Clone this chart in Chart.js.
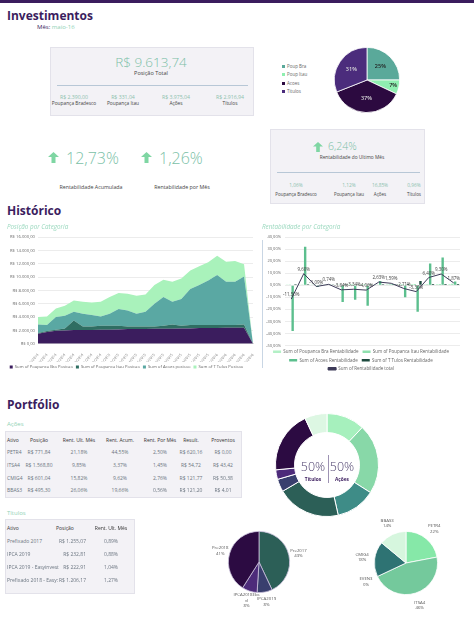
<!DOCTYPE html>
<html>
<head>
<meta charset="utf-8">
<title>Investimentos</title>
<script src="https://cdn.jsdelivr.net/npm/chart.js@4.4.1/dist/chart.umd.min.js"></script>
<style>
  body { margin: 0; width: 474px; height: 636px; position: relative; overflow: hidden; background: #fff; font-family: "Open Sans", sans-serif; }
  .t { position: absolute; white-space: nowrap; }
  .box { position: absolute; background: #f3f2f6; border: 1px solid #e3e2ea; box-sizing: border-box; }
  .hr { position: absolute; height: 1px; background: #b7c7d6; }
  .cv { position: absolute; }
</style>
</head>
<body>
<div style="position:absolute;left:0;top:0;width:474px;height:3px;background:#3b1d5e"></div>
<div class="box" style="left:50px;top:47px;width:204px;height:69px"></div>
<div class="hr" style="left:57px;top:85px;width:191px"></div>
<div class="box" style="left:270px;top:129px;width:155px;height:75px"></div>
<div class="hr" style="left:277px;top:172px;width:143px"></div>
<div class="box" style="left:5px;top:431px;width:237px;height:67px"></div>
<div class="box" style="left:5px;top:519px;width:130px;height:75px"></div>
<div style="position:absolute;left:262px;top:240px;width:1px;height:128px;background:#c9d6e4"></div>
<div style="position:absolute;left:328px;top:455px;width:1px;height:28px;background:#9d92b3"></div>

<svg style="position:absolute;left:48px;top:152px" width="11" height="11" viewBox="0 0 11 11"><path d="M5.5 0 L11 5 L7.5 5 L7.5 11 L3.5 11 L3.5 5 L0 5 Z" fill="#7fd6a3"/></svg>
<svg style="position:absolute;left:141px;top:152px" width="11" height="11" viewBox="0 0 11 11"><path d="M5.5 0 L11 5 L7.5 5 L7.5 11 L3.5 11 L3.5 5 L0 5 Z" fill="#7fd6a3"/></svg>
<svg style="position:absolute;left:313px;top:142px" width="10" height="10" viewBox="0 0 11 11"><path d="M5.5 0 L11 5 L7.5 5 L7.5 11 L3.5 11 L3.5 5 L0 5 Z" fill="#7fd6a3"/></svg>

<canvas id="pieTotal" class="cv" width="66" height="66" style="left:334px;top:47px"></canvas>
<canvas id="areaPos" class="cv" width="258" height="149" style="left:0px;top:230px"></canvas>
<canvas id="rentCat" class="cv" width="205" height="151" style="left:262px;top:230px"></canvas>
<canvas id="portDonut" class="cv" width="104" height="104" style="left:275px;top:413px"></canvas>
<canvas id="pieTitulos" class="cv" width="120" height="122" style="left:199px;top:501px"></canvas>
<canvas id="pieAcoes" class="cv" width="112" height="116" style="left:350px;top:505px"></canvas>

<script>
// ---- dados ----
var resumoCats = ['Poup Bra', 'Poup Itau', 'Acoes', 'Titulos'];
var resumoPct = [25, 7, 37, 31];
var resumoCores = ['#5aa99a', '#8fefb0', '#2c0a40', '#4b2c7c'];

var meses = ['31/05/2014', '30/06/2014', '31/07/2014', '31/08/2014', '30/09/2014', '31/10/2014',
  '30/11/2014', '31/12/2014', '31/01/2015', '28/02/2015', '31/03/2015', '30/04/2015', '31/05/2015',
  '30/06/2015', '31/07/2015', '31/08/2015', '30/09/2015', '31/10/2015', '30/11/2015', '31/12/2015',
  '31/01/2016', '29/02/2016', '31/03/2016', '30/04/2016', '31/05/2016'];
var posBra = [1500, 1750, 1950, 2000, 2050, 2050, 2050, 2100, 2100, 2150, 2200, 2200, 2200, 2250, 2250, 2250, 2300, 2300, 2350, 2350, 2350, 2400, 2400, 2400, 0];
var posItau = [100, 150, 150, 300, 1450, 550, 550, 600, 600, 550, 400, 400, 400, 350, 450, 650, 400, 500, 450, 450, 450, 400, 400, 500, 0];
var posAcoes = [1300, 900, 1900, 1900, 1300, 1900, 1700, 1400, 1800, 2500, 2400, 1900, 2200, 3400, 4300, 3400, 4000, 5400, 6000, 6700, 7500, 6500, 6500, 7200, 0];
var posTitulos = [1100, 1300, 1300, 1500, 1700, 1800, 1900, 2200, 2500, 2400, 2500, 2700, 2600, 2800, 2600, 3000, 3100, 2800, 2800, 2700, 2900, 3000, 3100, 1800, 0];

var rentMeses = ['abr-15', 'mai-15', 'jun-15', 'jul-15', 'ago-15', 'set-15', 'out-15', 'nov-15', 'dez-15', 'jan-16', 'fev-16', 'mar-16', 'abr-16', 'mai-16'];
var rentBra = [0.6, 0.6, 0.6, 0.7, 0.7, 0.8, 0.8, 0.7, 0.8, 0.9, 1.0, 0.9, 1.0, 1.06];
var rentItau = [0.6, 0.6, 0.6, 0.7, 0.7, 0.8, 0.8, 0.7, 0.8, 0.9, 1.0, 0.9, 1.1, 1.12];
var rentAcoes = [-38, 32, -1.5, 0.5, -14, -12, -17, 3.5, 1, -10, -22, 18, 23, 3];
var rentTitulos = [0.8, 0.9, 0.5, 0.7, 0.9, 0.7, 0.8, 0.9, 0.8, 1.0, 3.5, 1.1, 1.0, 0.96];
var rentTotal = [-11.5, 9.6, -1.09, 0.74, -3.84, -3.34, -4.06, 2.63, 1.59, -2.71, -5.3, 6.4, 9.3, 1.87];

var portCats = ['PETR4', 'ITSA4', 'CMIG4', 'Pre2017', 'IPCA2019', 'IPCA2019 Easy', 'Pre2018', 'BBAS3'];
var portVals = [12, 22, 12.5, 20, 4, 3, 19.5, 7];
var portCores = ['#a6f0bd', '#88d8a8', '#3e8c87', '#2c5f57', '#393f6e', '#4d2b7a', '#2c0b42', '#ddf7e3'];

var titCats = ['Pre2017', 'IPCA2019', ['IPCA2018Ebs', 'vl'], 'Pre2018'];
var titPct = [43, 8, 8, 41];
var titCores = ['#2c5f57', '#393f6e', '#4d2b7a', '#2c0b42'];

var acCats = ['PETR4', 'ITSA4', 'EVEN3', 'CMIG4', 'BBAS3'];
var acPct = [22, 46, 0, 18, 14];
var acCores = ['#86e8a8', '#74c99c', '#5aa99a', '#2e7373', '#d6f6de'];

var tabAcoes = [
  ['Ativo', 'Posição', 'Rent. Ult. Mês', 'Rent. Acum.', 'Rent. Por Mês', 'Result.', 'Proventos'],
  ['PETR4', 'R$ 771,84', '21,18%', '44,55%', '2,50%', 'R$ 620,16', 'R$ 0,00'],
  ['ITSA4', 'R$ 1.568,80', '9,85%', '3,37%', '1,45%', 'R$ 54,72', 'R$ 43,42'],
  ['CMIG4', 'R$ 601,04', '15,82%', '9,62%', '2,76%', 'R$ 121,77', 'R$ 50,38'],
  ['BBAS3', 'R$ 495,30', '26,06%', '19,66%', '0,56%', 'R$ 121,20', 'R$ 4,01']
];
var tabTitulos = [
  ['Ativo', 'Posição', 'Rent. Ult. Mês'],
  ['Prefixado 2017', 'R$ 1.255,07', '0,89%'],
  ['IPCA 2019', 'R$ 232,81', '0,88%'],
  ['IPCA 2019 - Easyinvest', 'R$ 222,91', '1,04%'],
  ['Prefixado 2018 - Easy:', 'R$ 1.206,17', '1,27%']
];

// ---- textos ----
var roxo = '#3b1d5e', verde = '#7cbfa7', cinza = '#444';
function t(x, y, s, size, color, o) {
  o = o || {};
  var d = document.createElement('div');
  d.className = 't';
  d.innerHTML = s;
  d.style.left = x + 'px';
  d.style.top = (y - size) + 'px';
  d.style.lineHeight = (size * 2) + 'px';
  d.style.fontSize = size + 'px';
  d.style.color = color;
  if (o.w) d.style.fontWeight = o.w;
  if (o.i) d.style.fontStyle = 'italic';
  if (o.a == 'c') d.style.transform = 'translateX(-50%)';
  if (o.a == 'r') d.style.transform = 'translateX(-100%)';
  document.body.appendChild(d);
}

t(7, 16, 'Investimentos', 12, roxo, {w: 700});
t(37, 27, 'Mês: <span style="color:#8fd2b5">maio-16</span>', 6, roxo);

t(151, 62, 'R$ 9.613,74', 13.5, verde, {a: 'c', w: 300});
t(151, 73, 'Posição Total', 5.5, cinza, {a: 'c'});
[[74, 'R$ 2.390,00', 'Poupança Bradesco'], [123, 'R$ 331,04', 'Poupança Itau'],
 [176, 'R$ 3.975,04', 'Ações'], [230, 'R$ 2.916,94', 'Títulos']].forEach(function(c) {
  t(c[0], 97, c[1], 5.2, '#8cc1ad', {a: 'c'});
  t(c[0], 104, c[2], 4.8, cinza, {a: 'c'});
});

resumoCats.forEach(function(c, i) {
  var y = 66 + i * 8.6;
  var sq = document.createElement('div');
  sq.style.cssText = 'position:absolute;left:282px;top:' + (y - 1.5) + 'px;width:3px;height:3px;background:' + resumoCores[i];
  document.body.appendChild(sq);
  t(287, y, c, 4.5, '#666');
});

t(66, 158, '12,73%', 16, verde, {w: 300});
t(159, 158, '1,26%', 16, verde, {w: 300});
t(91, 187, 'Rentabilidade Acumulada', 5.3, cinza, {a: 'c'});
t(182, 187, 'Rentabilidade por Mês', 5.3, cinza, {a: 'c'});

t(328, 146, '6,24%', 10.5, verde, {w: 300});
t(352, 158, 'Rentabilidade do Ultimo Mês', 4.8, cinza, {a: 'c'});
[[296, '1,06%', 'Poupança Bradesco'], [349, '1,12%', 'Poupança Itau'],
 [380, '16,85%', 'Ações'], [414, '0,96%', 'Títulos']].forEach(function(c) {
  t(c[0], 186, c[1], 4.8, '#8cc1ad', {a: 'c'});
  t(c[0], 194, c[2], 4.5, cinza, {a: 'c'});
});

t(7, 211, 'Histórico', 12, roxo, {w: 700});
t(7, 227, 'Posição por Categoria', 6.3, '#9ad8be', {i: true});
t(262, 227, 'Rentabilidade por Categoria', 6.3, '#9ad8be', {i: true});

t(7, 405, 'Portfólio', 12, roxo, {w: 700});
t(7, 424, 'Ações', 6, '#8fd2b5');
t(7, 513, 'Títulos', 6, '#8fd2b5');

var colA = [[7, 'l'], [39, 'c'], [79, 'c'], [120, 'c'], [160, 'c'], [191, 'c'], [223, 'c']];
var rowA = [440, 452, 465, 478, 490];
tabAcoes.forEach(function(r, j) {
  r.forEach(function(s, k) {
    t(colA[k][0], rowA[j], s, 5, j == 0 ? '#333' : '#6b7580', {a: colA[k][1]});
  });
});
var colT = [[7, 'l'], [86, 'r'], [111, 'c']];
var rowT = [528, 541, 554, 567, 580];
tabTitulos.forEach(function(r, j) {
  r.forEach(function(s, k) {
    if (j == 0 && k == 1) { t(56, rowT[j], s, 5, '#333'); return; }
    t(colT[k][0], rowT[j], s, 5, j == 0 ? '#333' : '#6b7580', {a: colT[k][1]});
  });
});

t(313, 466, '50%', 12.5, '#4a3d6b', {a: 'c', w: 300});
t(342, 466, '50%', 12.5, '#4a3d6b', {a: 'c', w: 300});
t(313, 480, 'Títulos', 4.8, roxo, {a: 'c', w: 700});
t(342, 480, 'Ações', 4.8, roxo, {a: 'c', w: 700});

// ---- graficos ----
Chart.defaults.font.family = '"Open Sans", sans-serif';
Chart.defaults.animation = false;
Chart.defaults.plugins.tooltip.enabled = false;

var pieLabels = {
  id: 'pieLabels',
  afterDatasetsDraw: function(chart, args, opts) {
    var ctx = chart.ctx;
    var meta = chart.getDatasetMeta(0);
    var ds = chart.data.datasets[0];
    ctx.save();
    ctx.textAlign = 'center';
    ctx.textBaseline = 'middle';
    meta.data.forEach(function(arc, i) {
      var mid = (arc.startAngle + arc.endAngle) / 2;
      var f = opts.factor;
      if (opts.inside && arc.endAngle - arc.startAngle < 0.6) f = 0.82;
      var x = arc.x + Math.cos(mid) * arc.outerRadius * f;
      var y = arc.y + Math.sin(mid) * arc.outerRadius * f;
      var pct = ds.data[i] + '%';
      if (opts.inside) {
        ctx.font = '600 ' + opts.size + 'px "Open Sans"';
        ctx.fillStyle = opts.colors[i];
        ctx.fillText(pct, x, y);
      } else {
        ctx.font = opts.size + 'px "Open Sans"';
        ctx.fillStyle = '#555';
        var lines = [].concat(chart.data.labels[i]).concat([pct]);
        var h = opts.size * 1.25;
        lines.forEach(function(l, k) {
          ctx.fillText(l, x, y + (k - (lines.length - 1) / 2) * h);
        });
      }
    });
    ctx.restore();
  }
};

new Chart(document.getElementById('pieTotal'), {
  type: 'pie',
  data: {
    labels: resumoCats,
    datasets: [{ data: resumoPct, backgroundColor: resumoCores, borderColor: '#fff', borderWidth: 0.8 }]
  },
  options: {
    responsive: false,
    plugins: {
      legend: { display: false },
      pieLabels: { inside: true, factor: 0.58, size: 5.5, colors: ['#222', '#222', '#ddd', '#ddd'] }
    }
  },
  plugins: [pieLabels]
});

function reais(v) {
  var s = String(Math.round(v)).replace(/\B(?=(\d{3})+(?!\d))/g, '.');
  return 'R$ ' + s + ',00';
}

new Chart(document.getElementById('areaPos'), {
  type: 'line',
  data: {
    labels: meses,
    datasets: [
      { label: 'Sum of Poupanca Bra Posicao', data: posBra, backgroundColor: '#3b1d5e', borderColor: '#3b1d5e', fill: 'origin' },
      { label: 'Sum of Poupanca Itau Posicao', data: posItau, backgroundColor: '#2f6e62', borderColor: '#2f6e62', fill: '-1' },
      { label: 'Sum of Acoes posicao', data: posAcoes, backgroundColor: '#5aa8a3', borderColor: '#5aa8a3', fill: '-1' },
      { label: 'Sum of T Tulos Posicao', data: posTitulos, backgroundColor: '#a9f2bb', borderColor: '#a9f2bb', fill: '-1' }
    ]
  },
  options: {
    responsive: false,
    layout: { padding: { top: 7, right: 5 } },
    elements: { point: { radius: 0 }, line: { borderWidth: 0, tension: 0 } },
    scales: {
      x: {
        grid: { display: false },
        border: { color: '#ddd' },
        ticks: { font: { size: 3.6 }, color: '#777', maxRotation: 50, minRotation: 50, autoSkip: false, padding: 1 },
        afterFit: function(s) { s.height = 18; }
      },
      y: {
        stacked: true, min: 0, max: 16000,
        grid: { color: '#ececec', drawTicks: false },
        border: { display: false },
        ticks: { stepSize: 2000, font: { size: 4.2 }, color: '#666', padding: 3, callback: reais },
        afterFit: function(s) { s.width = 38; }
      }
    },
    plugins: {
      legend: {
        position: 'bottom',
        labels: { boxWidth: 3, boxHeight: 3, font: { size: 4.2 }, color: '#666', padding: 3 }
      }
    }
  }
});

var lineLabels = {
  id: 'lineLabels',
  afterDatasetsDraw: function(chart) {
    var ctx = chart.ctx;
    var meta = chart.getDatasetMeta(4);
    ctx.save();
    ctx.font = '4.5px "Open Sans"';
    ctx.fillStyle = '#444';
    ctx.textAlign = 'center';
    ctx.textBaseline = 'bottom';
    meta.data.forEach(function(p, i) {
      var s = rentTotal[i].toFixed(2).replace('.', ',') + '%';
      ctx.fillText(s, p.x, p.y - 2);
    });
    ctx.restore();
  }
};

new Chart(document.getElementById('rentCat'), {
  type: 'bar',
  data: {
    labels: rentMeses,
    datasets: [
      { label: 'Sum of Poupanca Bra Rentabilidade', data: rentBra, backgroundColor: '#b3f0c6', order: 2 },
      { label: 'Sum of Poupanca Itau Rentabilidade', data: rentItau, backgroundColor: '#8fe0ae', order: 2 },
      { label: 'Sum of Acoes Rentabilidade', data: rentAcoes, backgroundColor: '#5cbf8e', order: 2 },
      { label: 'Sum of T Tulos Rentabilidade', data: rentTitulos, backgroundColor: '#1d4a3e', order: 2 },
      { label: 'Sum of Rentabilidade total', data: rentTotal, type: 'line', borderColor: '#3d3a58', backgroundColor: '#3d3a58',
        borderWidth: 1, pointRadius: 0, tension: 0, order: 1 }
    ]
  },
  options: {
    responsive: false,
    layout: { padding: { top: 7, right: 7 } },
    datasets: { bar: { barPercentage: 0.85, categoryPercentage: 0.9 } },
    scales: {
      x: {
        ticks: { display: false },
        grid: { display: false },
        border: { display: false },
        afterFit: function(s) { s.height = 0; }
      },
      y: {
        min: -50, max: 40,
        grid: { color: '#ececec', drawTicks: false },
        border: { display: false },
        ticks: { stepSize: 10, font: { size: 4 }, color: '#666', padding: 4,
          callback: function(v) { return v.toFixed(2).replace('.', ',') + '%'; } },
        afterFit: function(s) { s.width = 23; }
      }
    },
    plugins: {
      legend: {
        position: 'bottom',
        labels: { boxWidth: 8, boxHeight: 2.5, font: { size: 4.5 }, color: '#666', padding: 4,
          sort: function(a, b) { return a.datasetIndex - b.datasetIndex; } }
      }
    }
  },
  plugins: [lineLabels]
});

new Chart(document.getElementById('portDonut'), {
  type: 'doughnut',
  data: {
    labels: portCats,
    datasets: [{ data: portVals, backgroundColor: portCores, borderColor: '#fff', borderWidth: 1 }]
  },
  options: {
    responsive: false,
    cutout: '63%',
    plugins: { legend: { display: false } }
  }
});

new Chart(document.getElementById('pieTitulos'), {
  type: 'pie',
  data: {
    labels: titCats,
    datasets: [{ data: titPct, backgroundColor: titCores, borderColor: '#c9c0da', borderWidth: 0.8 }]
  },
  options: {
    responsive: false,
    layout: { padding: { left: 29, right: 29, top: 30, bottom: 30 } },
    plugins: {
      legend: { display: false },
      pieLabels: { inside: false, factor: 1.32, size: 4.3 }
    }
  },
  plugins: [pieLabels]
});

new Chart(document.getElementById('pieAcoes'), {
  type: 'pie',
  data: {
    labels: acCats,
    datasets: [{ data: acPct, backgroundColor: acCores, borderColor: '#fff', borderWidth: 0.8 }]
  },
  options: {
    responsive: false,
    layout: { padding: { left: 24, right: 24, top: 26, bottom: 26 } },
    plugins: {
      legend: { display: false },
      pieLabels: { inside: false, factor: 1.4, size: 4.3 }
    }
  },
  plugins: [pieLabels]
});
</script>
</body>
</html>
